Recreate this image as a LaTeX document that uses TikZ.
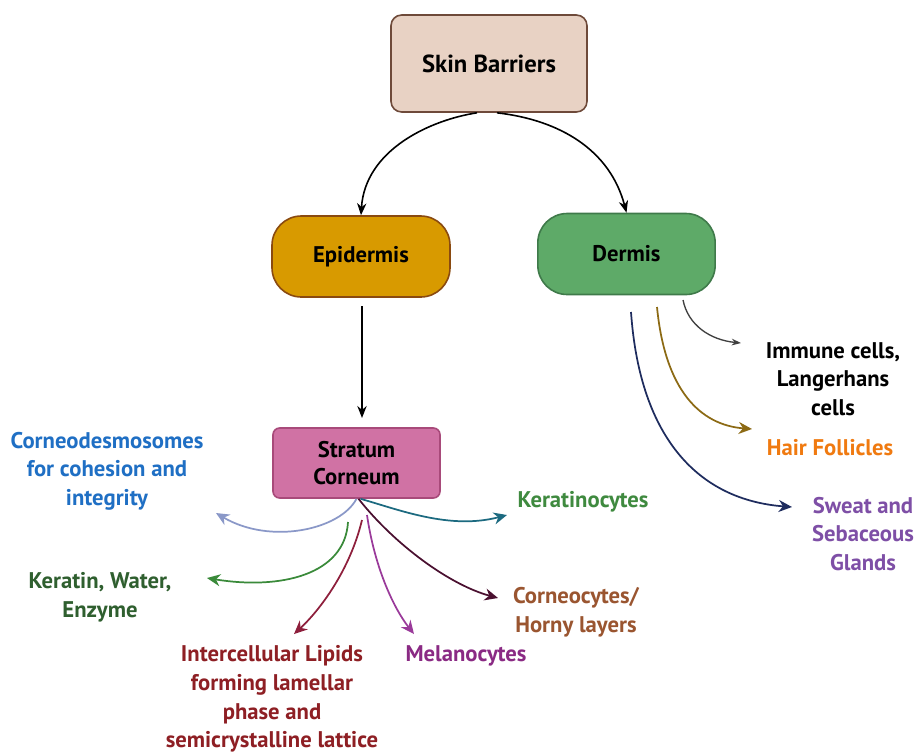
\documentclass[tikz,border=0pt]{standalone}
\usepackage{fontspec}
\setmainfont{PT Sans}
\usetikzlibrary{arrows.meta}
\definecolor{sbfill}{HTML}{E8D2C4}
\definecolor{sbdraw}{HTML}{6E4A3A}
\definecolor{epfill}{HTML}{D89A00}
\definecolor{epdraw}{HTML}{8A4A10}
\definecolor{defill}{HTML}{5EAA68}
\definecolor{dedraw}{HTML}{3F7A4A}
\definecolor{scfill}{HTML}{D072A4}
\definecolor{scdraw}{HTML}{A84A7A}
\definecolor{cblue}{HTML}{1F6FC4}
\definecolor{cgreen}{HTML}{2F5F2F}
\definecolor{cred}{HTML}{8E1F24}
\definecolor{cpurp}{HTML}{8A2A84}
\definecolor{ckgreen}{HTML}{3F8A3F}
\definecolor{cbrown}{HTML}{9A5530}
\definecolor{corange}{HTML}{F07A10}
\definecolor{cviolet}{HTML}{7E4FA6}
\definecolor{acorneo}{HTML}{8A98C8}
\definecolor{akerat}{HTML}{3A8A3A}
\definecolor{alipid}{HTML}{8E1F3C}
\definecolor{amelan}{HTML}{9A3A9A}
\definecolor{acorneoc}{HTML}{4A1030}
\definecolor{akeratino}{HTML}{1C6A80}
\definecolor{aimm}{HTML}{404040}
\definecolor{ahair}{HTML}{8C6A14}
\definecolor{asweat}{HTML}{1E2C5E}
\begin{document}
\begin{tikzpicture}[x=0.75pt,y=-0.75pt,
  boxtext/.style={font=\bfseries\fontsize{17pt}{20.5pt}\selectfont, text=black, align=center, line width=1.2pt},
  lab/.style={font=\bfseries\fontsize{17pt}{21.5pt}\selectfont, align=center, inner sep=0pt},
  arr/.style={line width=1.3pt, -{Stealth[length=10pt,width=9pt]}},
  blk/.style={line width=1.2pt, black, -{Stealth[length=9pt,width=7pt]}}]
\useasboundingbox (0,0) rectangle (917,754);
\fill[white] (0,0) rectangle (917,754);

% boxes
\node[boxtext, font=\bfseries\fontsize{18.5pt}{22pt}\selectfont, draw=sbdraw, fill=sbfill, rounded corners=8pt, minimum width=147pt, minimum height=72.75pt] (sb) at (489,63.5) {Skin Barriers};
\node[boxtext, draw=epdraw, fill=epfill, rounded corners=22pt, minimum width=133.5pt, minimum height=60.75pt] (ep) at (361,256.5) {Epidermis};
\node[boxtext, draw=dedraw, fill=defill, rounded corners=22pt, minimum width=133pt, minimum height=60.75pt] (de) at (626.5,254) {Dermis};
\node[boxtext, draw=scdraw, fill=scfill, rounded corners=5pt, minimum width=125.25pt, minimum height=52.5pt] (sc) at (356.5,463) {Stratum\\Corneum};

% labels
\node[lab, text=cblue] (l1) at (107,471) {Corneodesmosomes\\for cohesion and\\integrity};
\node[lab, text=cgreen] (l2) at (100,597) {Keratin, Water,\\Enzyme};
\node[lab, text=cred] (l3) at (272,699) {Intercellular Lipids\\forming lamellar\\phase and\\semicrystalline lattice};
\node[lab, text=cpurp] (l4) at (466,656) {Melanocytes};
\node[lab, text=cbrown] (l5) at (576,612) {Corneocytes/\\Horny layers};
\node[lab, text=ckgreen] (l6) at (583,502) {Keratinocytes};
\node[lab, text=black] (l7) at (833,379) {Immune cells,\\Langerhans\\cells};
\node[lab, text=corange] (l8) at (830,448) {Hair Follicles};
\node[lab, text=cviolet] (l9) at (863,534) {Sweat and\\Sebaceous\\Glands};

% free arrow ends
\coordinate (e1) at (216,513);
\coordinate (e2) at (207,578);
\coordinate (e3) at (294,634);
\coordinate (e4) at (414,634);
\coordinate (e5) at (498,598);
\coordinate (e6) at (507,515);
\coordinate (e7) at (741,343);
\coordinate (e8) at (752,429);
\coordinate (e9) at (792,507);
\coordinate (s2) at (348,522);
\coordinate (s3) at (362,520);
\coordinate (s4) at (367,515);
\coordinate (d1) at (683,300);
\coordinate (d2) at (657,307);
\coordinate (d3) at (631,312);
\coordinate (epout) at (362,306);
\coordinate (scin) at (362,418);

% top connectors
\draw[blk] (sb.south) ++(-12,0) .. controls (430,120) and (365,150) .. (ep.north);
\draw[blk] (sb.south) ++(8,0) .. controls (560,120) and (610,150) .. (de.north);
\draw[blk] (epout) -- (scin);

% stratum corneum fan
\draw[arr, acorneo] (sc.south) .. controls (340,530) and (270,545) .. (e1);
\draw[arr, akerat] (s2) .. controls (345,575) and (280,590) .. (e2);
\draw[arr, alipid] (s3) .. controls (350,570) and (320,610) .. (e3);
\draw[arr, amelan] (s4) .. controls (375,570) and (395,610) .. (e4);
\draw[arr, acorneoc] (sc.south) ++(2,0) .. controls (395,545) and (450,585) .. (e5);
\draw[arr, akeratino] (sc.south) ++(4,0) .. controls (400,510) and (450,530) .. (e6);

% dermis fan
\draw[line width=1pt, aimm, -{Stealth[length=7pt,width=5pt]}] (d1) .. controls (688,325) and (710,340) .. (e7);
\draw[arr, ahair] (d2) .. controls (665,390) and (700,425) .. (e8);
\draw[arr, asweat] (d3) .. controls (640,440) and (700,500) .. (e9);
\end{tikzpicture}
\end{document}
